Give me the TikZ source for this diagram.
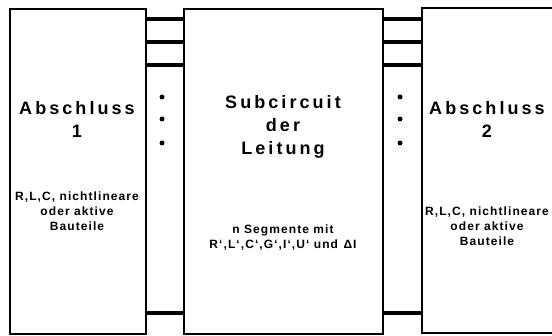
\documentclass[tikz,border=0pt]{standalone}
\usepackage{fontspec}
\setmainfont{Liberation Sans}
\newfontfamily\bigf[LetterSpace=17]{Liberation Sans}
\newfontfamily\smallf[LetterSpace=9]{Liberation Sans}
\begin{document}
\begin{tikzpicture}[x=1pt,y=-1pt,
  box/.style={draw=black,line width=2pt,inner sep=0pt,anchor=north west},
  wire/.style={line width=4.5pt},
  bigtxt/.style={align=center,font=\bigf\bfseries\fontsize{18}{23}\selectfont,inner sep=0pt},
  smalltxt/.style={align=center,font=\smallf\bfseries\fontsize{12}{15}\selectfont,inner sep=0pt},
  dot/.style={circle,fill=black,inner sep=0pt,minimum size=5pt}]
\useasboundingbox (0,0) rectangle (552,336);
\fill[white] (0,0) rectangle (552,336);
% boxes
\node[box,minimum width=136pt,minimum height=325pt] (L) at (9,8) {};
\node[box,minimum width=199pt,minimum height=325pt] (M) at (183,8) {};
\node[inner sep=0pt,anchor=north west,minimum width=150pt,minimum height=325pt] (R) at (422,8) {};
\draw[line width=2pt] (R.north east) -- (R.north west) -- (R.south west) -- (R.south east);
% wires
\foreach \y in {19,42,65,313}{
  \draw[wire] (L.east |- 0,\y) -- (M.west |- 0,\y);
  \draw[wire] (M.east |- 0,\y) -- (R.west |- 0,\y);
}
% dots
\foreach \y [count=\i] in {97,119,143}{
  \node[dot] (dl\i) at (162,\y) {};
  \node[dot] (dr\i) at (400,\y) {};
}
% texts
\node[bigtxt] (t1) at (77,119) {Abschluss\\1};
\node[smalltxt] (s1) at (77,211) {R,L,C, nichtlineare\\oder aktive\\Bauteile};
\node[bigtxt] (t2) at (283,127) {Subcircuit\\der\\Leitung};
\node[smalltxt] (s2) at (283,238) {n Segmente mit\\R‘,L‘,C‘,G‘,I‘,U‘ und \textbf{Δ}I};
\node[bigtxt] (t3) at (487,119) {Abschluss\\2};
\node[smalltxt] (s3) at (487,226) {R,L,C, nichtlineare\\oder aktive\\Bauteile};
\end{tikzpicture}
\end{document}
